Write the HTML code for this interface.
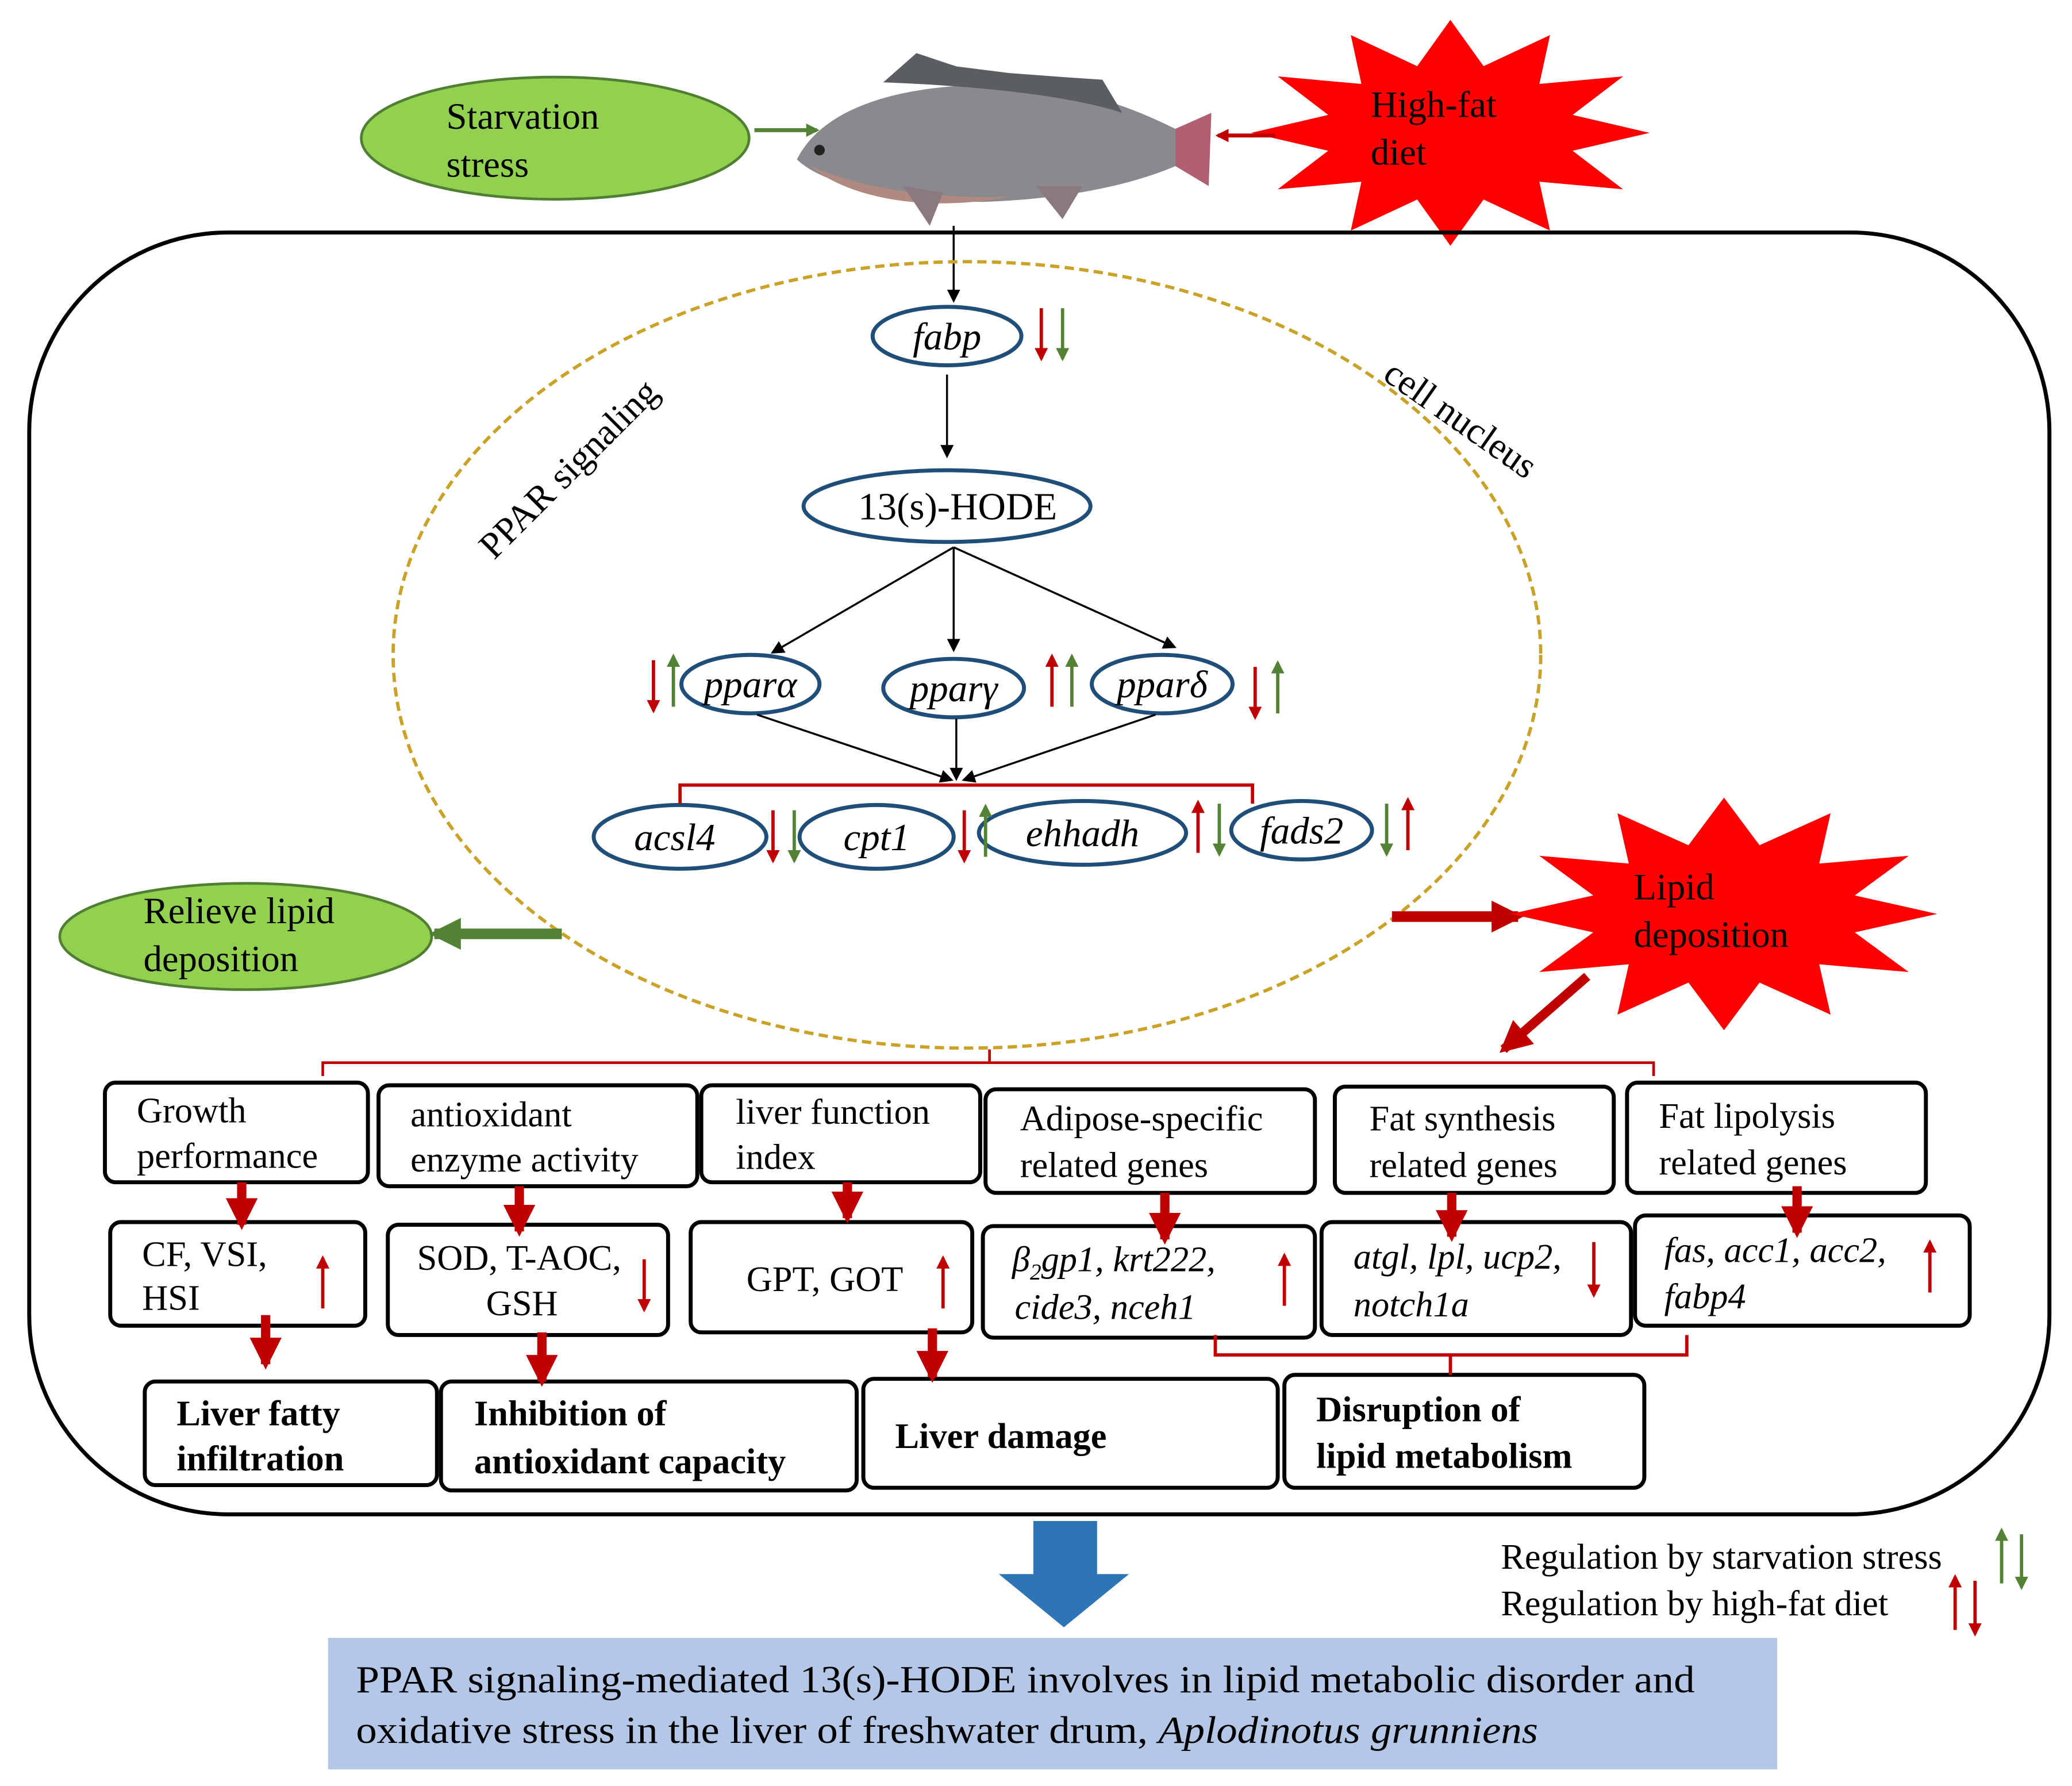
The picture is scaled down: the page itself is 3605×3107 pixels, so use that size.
<!DOCTYPE html>
<html><head><meta charset="utf-8"><style>
html,body{margin:0;padding:0;background:#fff}
svg{display:block;font-family:"Liberation Serif","Times New Roman",serif}
text{font-family:"Liberation Serif","Times New Roman",serif;fill:#000}
.it{font-style:italic}
</style></head><body>
<svg width="3605" height="3107" viewBox="0 0 1560 1344.5" xmlns="http://www.w3.org/2000/svg" font-family="Liberation Serif, serif">
<defs>
<marker id="ab" markerWidth="10" markerHeight="10" refX="8" refY="5" orient="auto" markerUnits="userSpaceOnUse"><path d="M0,0 L10,5 L0,10 z" fill="#000"/></marker>
<marker id="ar" markerWidth="10" markerHeight="10" refX="8" refY="5" orient="auto" markerUnits="userSpaceOnUse"><path d="M0,0 L10,5 L0,10 z" fill="#c00000"/></marker>
<marker id="ag" markerWidth="10" markerHeight="10" refX="8" refY="5" orient="auto" markerUnits="userSpaceOnUse"><path d="M0,0 L10,5 L0,10 z" fill="#548235"/></marker>
<marker id="arb" markerWidth="24" markerHeight="24" refX="20" refY="12" orient="auto" markerUnits="userSpaceOnUse"><path d="M0,0 L24,12 L0,24 z" fill="#c00000"/></marker>
<marker id="agb" markerWidth="24" markerHeight="24" refX="20" refY="12" orient="auto" markerUnits="userSpaceOnUse"><path d="M0,0 L24,12 L0,24 z" fill="#548235"/></marker>
<g id="star"><polygon points="1242,100 1184,113.5 1222,142.5 1159,136.8 1167,173.6 1117,150.2 1092,185 1067,150.2 1017,173.6 1025,136.8 962,142.5 1000,113.5 942,100 1000,86.5 962,57.5 1025,63.2 1017,26.4 1067,49.8 1092,15 1117,49.8 1167,26.4 1159,63.2 1222,57.5 1184,86.5" fill="#ff0000"/></g>
</defs>

<ellipse cx="418" cy="104" rx="146" ry="46" fill="#92d050" stroke="#507e32" stroke-width="2"/>
<text x="336" y="97" font-size="28">Starvation</text>
<text x="336" y="133" font-size="28">stress</text>
<line x1="568" y1="98" x2="615" y2="98" stroke="#548235" stroke-width="3" marker-end="url(#ag)"/>
<!-- fish -->
<path d="M600,120 C620,80 680,62 760,64 C820,66 860,85 885,97 L912,85 L910,140 L885,125 C850,140 800,150 740,152 C680,152 620,140 600,120 Z" fill="#8a8a8e"/>
<path d="M665,62 L690,40 L720,50 L760,55 L800,58 L830,60 L845,85 C800,70 720,64 665,62Z" fill="#5a5e60"/>
<path d="M610,125 C650,142 700,150 760,148 C700,160 640,150 610,125Z" fill="#b08a80"/>
<path d="M885,97 L912,85 L910,140 L885,125 Z" fill="#b06070"/>
<path d="M680,140 L700,170 L710,145Z M780,140 L800,165 L815,140Z" fill="#8a7a80"/>
<circle cx="617" cy="113" r="4" fill="#222"/>
<use href="#star"/>
<text x="1032" y="88" font-size="28">High-fat</text>
<text x="1032" y="124" font-size="28">diet</text>
<line x1="960" y1="102" x2="917" y2="102" stroke="#c00000" stroke-width="3" marker-end="url(#ar)"/>

<rect x="22" y="175" width="1521" height="965" rx="150" ry="150" fill="none" stroke="#000" stroke-width="3"/>
<line x1="718" y1="170" x2="718" y2="226" stroke="#000" stroke-width="1.5" marker-end="url(#ab)"/>
<ellipse cx="728" cy="493" rx="432" ry="296" fill="none" stroke="#c9a227" stroke-width="2.5" stroke-dasharray="7,4"/>
<text transform="translate(372,422) rotate(-45)" font-size="28">PPAR signaling</text>
<text transform="translate(1040,285) rotate(35)" font-size="28">cell nucleus</text>

<g fill="#fff" stroke="#1f4e79" stroke-width="3">
<ellipse cx="713" cy="253" rx="56" ry="22"/>
<ellipse cx="713" cy="381" rx="108" ry="27"/>
<ellipse cx="565" cy="515" rx="52" ry="22"/>
<ellipse cx="718" cy="518" rx="53" ry="22"/>
<ellipse cx="875" cy="515" rx="53" ry="22"/>
<ellipse cx="512" cy="630" rx="65" ry="24"/>
<ellipse cx="660" cy="630" rx="58" ry="24"/>
<ellipse cx="815" cy="627" rx="78" ry="24"/>
<ellipse cx="980" cy="625" rx="53" ry="22"/>
</g>
<g font-size="29" text-anchor="middle">
<text x="713" y="263" class="it">fabp</text>
<text x="721" y="391">13(s)-HODE</text>
<text x="565" y="525" class="it">pparα</text>
<text x="718" y="528" class="it">pparγ</text>
<text x="875" y="525" class="it">pparδ</text>
<text x="508" y="640" class="it">acsl4</text>
<text x="660" y="640" class="it">cpt1</text>
<text x="815" y="637" class="it">ehhadh</text>
<text x="980" y="635" class="it">fads2</text>
</g>
<g stroke="#000" stroke-width="1.5">
<line x1="713" y1="282" x2="713" y2="343" marker-end="url(#ab)"/>
<line x1="718" y1="412" x2="582" y2="491" marker-end="url(#ab)"/>
<line x1="718" y1="412" x2="718" y2="489" marker-end="url(#ab)"/>
<line x1="718" y1="412" x2="884" y2="487" marker-end="url(#ab)"/>
<line x1="570" y1="538" x2="716" y2="587" marker-end="url(#ab)"/>
<line x1="720" y1="541" x2="720" y2="586" marker-end="url(#ab)"/>
<line x1="870" y1="538" x2="726" y2="587" marker-end="url(#ab)"/>
</g>
<path d="M512,605 V591 H943 V605" fill="none" stroke="#c00000" stroke-width="2.5"/>

<g stroke-width="2.5">
<line x1="784" y1="232" x2="784" y2="270" stroke="#c00000" marker-end="url(#ar)"/>
<line x1="800" y1="232" x2="800" y2="270" stroke="#548235" marker-end="url(#ag)"/>
<line x1="492" y1="497" x2="492" y2="535" stroke="#c00000" marker-end="url(#ar)"/>
<line x1="507" y1="532" x2="507" y2="494" stroke="#548235" marker-end="url(#ag)"/>
<line x1="792" y1="532" x2="792" y2="494" stroke="#c00000" marker-end="url(#ar)"/>
<line x1="807" y1="532" x2="807" y2="494" stroke="#548235" marker-end="url(#ag)"/>
<line x1="945" y1="502" x2="945" y2="540" stroke="#c00000" marker-end="url(#ar)"/>
<line x1="962" y1="537" x2="962" y2="499" stroke="#548235" marker-end="url(#ag)"/>
<line x1="582" y1="610" x2="582" y2="648" stroke="#c00000" marker-end="url(#ar)"/>
<line x1="598" y1="610" x2="598" y2="648" stroke="#548235" marker-end="url(#ag)"/>
<line x1="726" y1="610" x2="726" y2="648" stroke="#c00000" marker-end="url(#ar)"/>
<line x1="742" y1="645" x2="742" y2="607" stroke="#548235" marker-end="url(#ag)"/>
<line x1="902" y1="642" x2="902" y2="604" stroke="#c00000" marker-end="url(#ar)"/>
<line x1="918" y1="605" x2="918" y2="643" stroke="#548235" marker-end="url(#ag)"/>
<line x1="1044" y1="605" x2="1044" y2="643" stroke="#548235" marker-end="url(#ag)"/>
<line x1="1060" y1="640" x2="1060" y2="602" stroke="#c00000" marker-end="url(#ar)"/>
</g>

<ellipse cx="185" cy="705" rx="140" ry="40" fill="#92d050" stroke="#507e32" stroke-width="2"/>
<text x="108" y="695" font-size="28">Relieve lipid</text>
<text x="108" y="731" font-size="28">deposition</text>
<line x1="423" y1="703" x2="327" y2="703" stroke="#548235" stroke-width="8" marker-end="url(#agb)"/>
<line x1="1048" y1="690" x2="1143" y2="690" stroke="#c00000" stroke-width="8" marker-end="url(#arb)"/>
<use href="#star" transform="translate(1298,688) scale(1.07,1.03) translate(-1092,-100)"/>
<text x="1230" y="677" font-size="28">Lipid</text>
<text x="1230" y="713" font-size="28">deposition</text>
<line x1="1195" y1="735" x2="1132" y2="790" stroke="#c00000" stroke-width="7" marker-end="url(#arb)"/>
<path d="M243,810 V800 H1245 V810 M745,800 V790" fill="none" stroke="#c00000" stroke-width="2"/>

<g fill="#fff" stroke="#000" stroke-width="3">
<rect x="79" y="815" width="198" height="75" rx="8"/>
<rect x="285" y="817" width="240" height="76" rx="8"/>
<rect x="528" y="817" width="210" height="73" rx="8"/>
<rect x="742" y="820" width="248" height="78" rx="8"/>
<rect x="1005" y="818" width="210" height="80" rx="8"/>
<rect x="1225" y="815" width="225" height="83" rx="8"/>
<rect x="83" y="920" width="192" height="78" rx="8"/>
<rect x="292" y="922" width="211" height="83" rx="8"/>
<rect x="520" y="920" width="212" height="83" rx="8"/>
<rect x="740" y="923" width="250" height="84" rx="8"/>
<rect x="995" y="920" width="233" height="85" rx="8"/>
<rect x="1231" y="915" width="252" height="83" rx="8"/>
<rect x="109" y="1040" width="220" height="78" rx="8"/>
<rect x="332" y="1040" width="313" height="82" rx="8"/>
<rect x="650" y="1038" width="312" height="82" rx="8"/>
<rect x="967" y="1035" width="271" height="85" rx="8"/>
</g>
<g font-size="27">
<text x="103" y="845">Growth</text><text x="103" y="879">performance</text>
<text x="309" y="848">antioxidant</text><text x="309" y="882">enzyme activity</text>
<text x="554" y="846">liver function</text><text x="554" y="880">index</text>
<text x="768" y="851">Adipose-specific</text><text x="768" y="886">related genes</text>
<text x="1031" y="851">Fat synthesis</text><text x="1031" y="886">related genes</text>
<text x="1249" y="849">Fat lipolysis</text><text x="1249" y="884">related genes</text>
<text x="107" y="953">CF, VSI,</text><text x="107" y="986">HSI</text>
<text x="314" y="956">SOD, T-AOC,</text><text x="366" y="990">GSH</text>
<text x="562" y="972">GPT, GOT</text>
<text x="762" y="957" class="it">β<tspan font-size="17" dy="6">2</tspan><tspan dy="-6">gp1, krt222,</tspan></text><text x="764" y="993" class="it">cide3, nceh1</text>
<text x="1019" y="955" class="it">atgl, lpl, ucp2,</text><text x="1019" y="991" class="it">notch1a</text>
<text x="1253" y="950" class="it">fas, acc1, acc2,</text><text x="1253" y="985" class="it">fabp4</text>
</g>
<g font-size="27" font-weight="bold">
<text x="133" y="1073">Liver fatty</text><text x="133" y="1107">infiltration</text>
<text x="357" y="1073">Inhibition of</text><text x="357" y="1109">antioxidant capacity</text>
<text x="674" y="1090">Liver damage</text>
<text x="991" y="1070">Disruption of</text><text x="991" y="1105">lipid metabolism</text>
</g>
<g stroke="#c00000" stroke-width="7">
<line x1="182" y1="890" x2="182" y2="922" marker-end="url(#arb)"/>
<line x1="391" y1="893" x2="391" y2="927" marker-end="url(#arb)"/>
<line x1="638" y1="890" x2="638" y2="917" marker-end="url(#arb)"/>
<line x1="877" y1="898" x2="877" y2="933" marker-end="url(#arb)"/>
<line x1="1093" y1="898" x2="1093" y2="931" marker-end="url(#arb)"/>
<line x1="1353" y1="893" x2="1353" y2="928" marker-end="url(#arb)"/>
<line x1="200" y1="990" x2="200" y2="1027" marker-end="url(#arb)"/>
<line x1="408" y1="1003" x2="408" y2="1040" marker-end="url(#arb)"/>
<line x1="702" y1="1000" x2="702" y2="1037" marker-end="url(#arb)"/>
</g>
<g stroke="#c00000" stroke-width="2.5">
<line x1="243" y1="985" x2="243" y2="947" marker-end="url(#ar)"/>
<line x1="485" y1="948" x2="485" y2="986" marker-end="url(#ar)"/>
<line x1="710" y1="985" x2="710" y2="947" marker-end="url(#ar)"/>
<line x1="967" y1="983" x2="967" y2="945" marker-end="url(#ar)"/>
<line x1="1200" y1="935" x2="1200" y2="975" marker-end="url(#ar)"/>
<line x1="1453" y1="973" x2="1453" y2="935" marker-end="url(#ar)"/>
</g>
<path d="M915,1005 V1020 H1270 V1005 M1092,1020 V1035" fill="none" stroke="#c00000" stroke-width="2.5"/>

<polygon points="778,1145 826,1145 826,1185 850,1185 801,1225 752,1185 778,1185" fill="#2e75b6"/>
<text x="1130" y="1181" font-size="27">Regulation by starvation stress</text>
<text x="1130" y="1216" font-size="27">Regulation by high-fat diet</text>
<g stroke-width="2.5">
<line x1="1507" y1="1192" x2="1507" y2="1152" stroke="#548235" marker-end="url(#ag)"/>
<line x1="1522" y1="1155" x2="1522" y2="1195" stroke="#548235" marker-end="url(#ag)"/>
<line x1="1472" y1="1227" x2="1472" y2="1187" stroke="#c00000" marker-end="url(#ar)"/>
<line x1="1487" y1="1190" x2="1487" y2="1230" stroke="#c00000" marker-end="url(#ar)"/>
</g>
<rect x="247" y="1233" width="1091" height="99" fill="#b4c7e7"/>
<text x="268" y="1274" font-size="29" textLength="1008" lengthAdjust="spacingAndGlyphs">PPAR signaling-mediated 13(s)-HODE involves in lipid metabolic disorder and</text>
<text x="268" y="1312" font-size="29" textLength="890" lengthAdjust="spacingAndGlyphs">oxidative stress in the liver of freshwater drum, <tspan font-style="italic">Aplodinotus grunniens</tspan></text>
</svg>
</body></html>
